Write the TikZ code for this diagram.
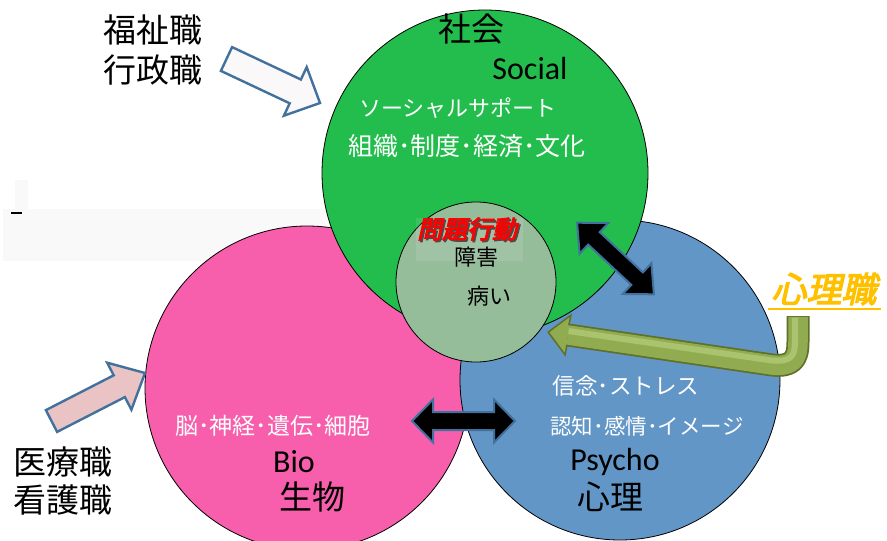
\documentclass[tikz,border=0pt]{standalone}
\usepackage{fontspec}
\setmainfont{Carlito}
\newfontfamily\jp{Noto Sans CJK JP}
\newfontfamily\jpbi[FakeSlant=0.22,FakeBold=3.5]{Noto Sans CJK JP}
\definecolor{bandgray}{RGB}{249,249,249}
\definecolor{pinkc}{RGB}{247,94,171}
\definecolor{bluec}{RGB}{98,150,199}
\definecolor{greenc}{RGB}{34,189,76}
\definecolor{sagec}{RGB}{149,189,154}
\definecolor{edgeblue}{RGB}{65,113,156}
\definecolor{arrowpink}{RGB}{234,196,196}
\definecolor{arrowwhite}{RGB}{250,248,248}
\definecolor{olivec}{RGB}{145,172,80}
\definecolor{olivedark}{RGB}{95,112,40}
\definecolor{olivelight}{RGB}{170,195,110}
\definecolor{orangec}{RGB}{255,192,0}
\begin{document}
\begin{tikzpicture}[x=1pt,y=-1pt,
  circ/.style={circle, draw=black, line width=0.8pt, inner sep=0pt, outer sep=0pt},
  jpbig/.style={font=\jp\fontsize{33}{36}\selectfont, inner sep=0pt, text=black},
  latin/.style={font=\fontsize{32}{36}\selectfont, inner sep=0pt, text=black},
  jpwhite/.style={font=\jp\fontsize{#1}{#1}\selectfont, inner sep=0pt, text=white},
  jpsmall/.style={font=\jp\fontsize{22}{24}\selectfont, inner sep=0pt, text=black},
  blockarrow/.style={draw=edgeblue, line width=2.4pt, line join=miter},
  dblarrow/.style={fill=black, draw=edgeblue, line width=2pt, line join=miter}]
\useasboundingbox (0,0) rectangle (887,541);
% faint background band
\fill[bandgray] (3,209) rectangle (523,261);
\fill[bandgray] (15,180) rectangle (28,223);
\draw[line width=2.5pt] (11,213) -- (22,213);
% circles
\node[circ, fill=pinkc, minimum size=324pt] (bio) at (307,388) {};
\node[circ, fill=bluec, minimum size=320pt] (psy) at (620,380) {};
\node[circ, fill=greenc, minimum size=326pt] (soc) at (485,173) {};
\node[circ, fill=sagec, minimum size=160pt] (core) at (476,282) {};
\fill[white, opacity=0.1] (416,218) rectangle (523,261);
% white block arrow (top left)
\filldraw[blockarrow, fill=arrowwhite] (232.1,47.1) -- (300.9,79.5) -- (306.7,67.1) -- (320,103) -- (283.9,115.7) -- (289.7,103.3) -- (220.9,70.9) -- cycle;
% pink block arrow (bottom left)
\filldraw[blockarrow, fill=arrowpink] (45.9,410.1) -- (113.7,375.3) -- (107.2,362.7) -- (145,373) -- (131.4,409.7) -- (124.9,397.1) -- (57.1,431.9) -- cycle;
% diagonal double arrow
\begin{scope}[shift={(615.5,258.5)}, rotate=-43]
\filldraw[dblarrow] (-52.5,0) -- (-29.5,21) -- (-29.5,8.5) -- (29.5,8.5) -- (29.5,21) -- (52.5,0) -- (29.5,-21) -- (29.5,-8.5) -- (-29.5,-8.5) -- (-29.5,-21) -- cycle;
\end{scope}
% horizontal double arrow
\begin{scope}[shift={(463.5,421)}]
\filldraw[dblarrow] (-51.5,0) -- (-30.5,21.5) -- (-30.5,9) -- (30.5,9) -- (30.5,21.5) -- (51.5,0) -- (30.5,-21.5) -- (30.5,-9) -- (-30.5,-9) -- (-30.5,-21.5) -- cycle;
\end{scope}
% bent olive arrow
\draw[line width=23pt, olivedark, line cap=butt, line join=round] (798,316) -- (798,342) .. controls (798,360) and (792,367) .. (772,365) -- (568,335);
\draw[line width=19.5pt, olivec, line cap=butt, line join=round] (798,316.8) -- (798,342) .. controls (798,360) and (792,367) .. (772,365) -- (568,335);
\draw[line width=6pt, olivelight, line cap=butt, line join=round] (795,317.5) -- (795,342) .. controls (795,357) and (790,362) .. (772,360.5) -- (568,331);
\fill[olivec] (570.9,315.2) -- (548.2,332.1) -- (565.1,354.8) -- cycle;
\draw[olivedark, line width=1.5pt, line join=miter] (568.8,325.2) -- (570.9,315.2) -- (548.2,332.1) -- (565.1,354.8) -- (566.9,344.8);
% labels
\node[jpbig] (fukushi) at (153,30) {福祉職};
\node[jpbig] (gyosei) at (153,70) {行政職};
\node[jpbig] (iryo) at (63,462) {医療職};
\node[jpbig] (kango) at (63,500) {看護職};
\node[jpbig] (shakai) at (471,29) {社会};
\node[latin] (social) at (530,69) {Social};
\node[jpwhite=22] (support) at (458,108) {ソーシャルサポート};
\node[jpwhite=25] (soshiki) at (467,146) {組織･制度･経済･文化};
\node[font=\jpbi\fontsize{25}{27}\selectfont, inner sep=0pt, text=black!70] at (468.5,230.5) {問題行動};
\node[font=\jpbi\fontsize{25}{27}\selectfont, inner sep=0pt, text=red] (mondai) at (467,229) {問題行動};
\node[jpsmall] (shogai) at (476,257) {障害};
\node[jpsmall] (yamai) at (489,296) {病い};
\node[font=\jpbi\fontsize{35}{37}\selectfont, inner sep=0pt, text=orangec] (shinrishoku) at (824,289) {心理職};
\draw[orangec, line width=2.6pt] (768,309) -- (881,309);
\node[jpwhite=22.6] (shinnen) at (626,386) {信念･ストレス};
\node[jpwhite=21.5] (ninchi) at (647,426) {認知･感情･イメージ};
\node[latin] (psycho) at (615,462) {Psycho};
\node[jpbig] (shinri) at (610,497) {心理};
\node[jpwhite=23] (nou) at (273,426) {脳･神経･遺伝･細胞};
\node[latin] (biotext) at (294,462) {Bio};
\node[jpbig] (seibutsu) at (312,497) {生物};
\end{tikzpicture}
\end{document}
